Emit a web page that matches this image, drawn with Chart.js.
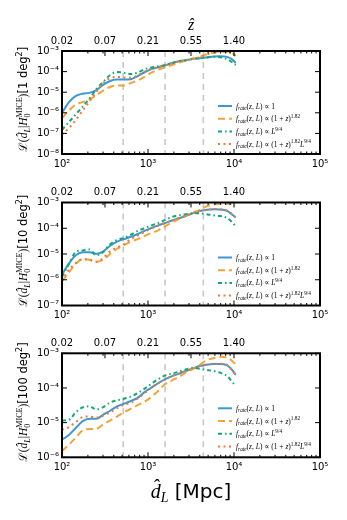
<!DOCTYPE html>
<html>
<head>
<meta charset="utf-8">
<script src="https://cdn.jsdelivr.net/npm/chart.js@4.4.1/dist/chart.umd.min.js"></script>
<style>
  html, body { margin: 0; padding: 0; background: #fff; }
  #wrap { position: relative; width: 347px; height: 520px; }
  #wrap canvas { position: absolute; left: 0; }
</style>
</head>
<body>
<div id="wrap">
  <canvas id="c1" width="347" height="170" style="top:0px"></canvas>
  <canvas id="c2" width="347" height="160" style="top:170px"></canvas>
  <canvas id="c3" width="347" height="190" style="top:330px"></canvas>
</div>
<script>
// luminosity distance grid (Mpc)
const dL = [100, 120, 145, 174, 209, 251, 302, 363, 437, 525, 631, 759, 912, 1096, 1318,
            1585, 1905, 2291, 2754, 3311, 3981, 4786, 5754, 6918, 8318, 9333, 10470];

// 1 deg2
const flat1 = [1.0e-6, 3.2e-6, 6.6e-6, 8.5e-6, 9.3e-6, 1.26e-5, 2.3e-5, 3.5e-5, 4.1e-5, 4.1e-5, 4.3e-5, 6.0e-5, 9.3e-5, 1.32e-4,
               1.6e-4, 2.0e-4, 2.6e-4, 3.2e-4, 3.6e-4, 4.1e-4, 4.5e-4, 4.9e-4, 5.4e-4, 5.6e-4, 5.2e-4, 4.2e-4, 2.6e-4];
const zev1  = [5.6e-7, 1.26e-6, 2.5e-6, 3.3e-6, 4.5e-6, 7.1e-6, 1.2e-5, 1.8e-5, 2.1e-5, 2.1e-5, 2.8e-5, 3.7e-5, 5.6e-5, 8.9e-5,
               1.26e-4, 1.6e-4, 2.1e-4, 2.75e-4, 3.4e-4, 4.2e-4, 5.2e-4, 6.9e-4, 8.3e-4, 9.1e-4, 9.3e-4, 8.3e-4, 6.3e-4];
const lum1  = [1.5e-7, 3.5e-7, 8.5e-7, 2.0e-6, 5.0e-6, 1.4e-5, 3.2e-5, 6.8e-5, 9.5e-5, 8.9e-5, 7.6e-5, 8.9e-5, 1.3e-4, 1.6e-4,
               1.8e-4, 2.1e-4, 2.6e-4, 3.2e-4, 3.6e-4, 4.1e-4, 4.4e-4, 4.8e-4, 5.2e-4, 5.0e-4, 4.0e-4, 3.0e-4, 2.1e-4];
const both1 = [8.9e-8, 1.8e-7, 4.5e-7, 1.3e-6, 3.5e-6, 1.05e-5, 2.8e-5, 4.8e-5, 5.5e-5, 5.2e-5, 5.0e-5, 6.6e-5, 1.0e-4, 1.38e-4,
               1.7e-4, 2.04e-4, 2.5e-4, 3.1e-4, 3.5e-4, 4.2e-4, 5.0e-4, 6.6e-4, 8.5e-4, 9.5e-4, 9.3e-4, 7.9e-4, 5.6e-4];

// 10 deg2
const flat2 = [1.6e-6, 4.2e-6, 8.9e-6, 1.17e-5, 1.17e-5, 1.02e-5, 1.26e-5, 2.1e-5, 3.0e-5, 3.8e-5, 4.7e-5, 6.0e-5, 7.9e-5, 1.02e-4,
               1.29e-4, 1.6e-4, 2.0e-4, 2.45e-4, 3.0e-4, 3.8e-4, 4.7e-4, 5.2e-4, 5.5e-4, 5.4e-4, 4.7e-4, 3.6e-4, 2.6e-4];
const zev2  = [8.9e-7, 1.9e-6, 4.2e-6, 6.3e-6, 6.0e-6, 5.0e-6, 6.0e-6, 1.0e-5, 1.6e-5, 2.2e-5, 3.0e-5, 3.8e-5, 5.0e-5, 6.6e-5,
               8.3e-5, 1.2e-4, 1.7e-4, 2.3e-4, 3.2e-4, 4.0e-4, 5.2e-4, 7.1e-4, 8.3e-4, 8.9e-4, 9.1e-4, 8.5e-4, 7.6e-4];
const lum2  = [1.3e-6, 4.0e-6, 1.2e-5, 1.38e-5, 1.5e-5, 8.9e-6, 1.2e-5, 2.4e-5, 3.5e-5, 4.2e-5, 5.6e-5, 7.9e-5, 1.0e-4, 1.3e-4,
               1.6e-4, 2.1e-4, 2.75e-4, 3.2e-4, 3.5e-4, 3.8e-4, 3.8e-4, 3.5e-4, 3.2e-4, 3.0e-4, 2.5e-4, 1.8e-4, 1.2e-4];
const both2 = [8.9e-7, 2.4e-6, 4.5e-6, 6.3e-6, 5.9e-6, 5.0e-6, 7.1e-6, 1.26e-5, 1.8e-5, 2.4e-5, 3.8e-5, 5.2e-5, 7.1e-5, 1.0e-4,
               1.26e-4, 1.6e-4, 2.0e-4, 2.5e-4, 3.1e-4, 3.8e-4, 4.7e-4, 5.2e-4, 5.6e-4, 5.5e-4, 4.8e-4, 3.7e-4, 2.7e-4];

// 100 deg2
const flat3 = [3.2e-6, 4.4e-6, 7.1e-6, 1.1e-5, 1.29e-5, 1.29e-5, 1.7e-5, 2.2e-5, 2.95e-5, 3.5e-5, 4.2e-5, 5.2e-5, 7.6e-5, 1.02e-4,
               1.38e-4, 1.8e-4, 2.2e-4, 2.6e-4, 3.1e-4, 3.6e-4, 4.3e-4, 4.7e-4, 4.9e-4, 4.9e-4, 4.5e-4, 3.5e-4, 2.4e-4];
const zev3  = [1.5e-6, 2.3e-6, 3.7e-6, 6.0e-6, 6.5e-6, 6.6e-6, 8.9e-6, 1.15e-5, 1.5e-5, 2.0e-5, 2.5e-5, 3.2e-5, 4.0e-5, 5.5e-5,
               8.3e-5, 1.3e-4, 1.66e-4, 2.1e-4, 2.75e-4, 3.5e-4, 4.6e-4, 6.3e-4, 7.2e-4, 7.9e-4, 7.6e-4, 6.3e-4, 4.7e-4];
const lum3  = [1.15e-5, 1.2e-5, 2.0e-5, 2.75e-5, 2.95e-5, 2.4e-5, 2.8e-5, 3.8e-5, 4.4e-5, 4.9e-5, 5.6e-5, 7.1e-5, 9.5e-5, 1.32e-4,
               1.8e-4, 2.3e-4, 2.6e-4, 2.95e-4, 3.4e-4, 3.8e-4, 3.6e-4, 3.3e-4, 3.1e-4, 2.75e-4, 2.2e-4, 1.6e-4, 1.12e-4];
const both3 = [6.2e-6, 7.4e-6, 1.05e-5, 1.45e-5, 1.5e-5, 1.4e-5, 1.6e-5, 2.0e-5, 2.6e-5, 3.3e-5, 3.7e-5, 5.0e-5, 7.1e-5, 1.02e-4,
               1.38e-4, 1.8e-4, 2.2e-4, 2.6e-4, 3.1e-4, 3.6e-4, 4.3e-4, 4.8e-4, 5.0e-4, 5.0e-4, 4.6e-4, 3.5e-4, 2.4e-4];

const xTickVals = [1e2, 1e3, 1e4, 1e5];
const xTickLabels = ['10²', '10³', '10⁴', '10⁵'];
const zTickVals = [100, 316, 1000, 3162, 10000];
const zTickLabels = ['0.02', '0.07', '0.21', '0.55', '1.40'];
const binEdges = [515, 1580, 4400];
const skyAreas = ['1', '10', '100'];
const yMins = [1e-8, 1e-7, 1e-6];

const panelSeries = [
  [flat1, zev1, lum1, both1],
  [flat2, zev2, lum2, both2],
  [flat3, zev3, lum3, both3]
];

const colors = ['#3d97d3', '#f2a43a', '#14a57b', '#ef7a33'];
const dashes = [[], [7, 4], [4, 3, 1.5, 3], [2, 3.5]];
// space above / below the plot frame in each canvas
const frames = [{ top: 51, bottom: 16 }, { top: 32.5, bottom: 24.5 }, { top: 23.3, bottom: 62.7 }];

const SERIF = '"Liberation Serif", "DejaVu Serif", serif';
const SANS = '"DejaVu Sans", sans-serif';
const STYLES = {
  n:    { fam: SERIF, it: false, k: 1,   dy: 0 },
  i:    { fam: SERIF, it: true,  k: 1,   dy: 0 },
  isub: { fam: SERIF, it: true,  k: 0.7, dy: 0.22 },
  nsub: { fam: SERIF, it: false, k: 0.7, dy: 0.22 },
  sup:  { fam: SERIF, it: false, k: 0.7, dy: -0.42 },
  stk:  { fam: SERIF, it: false, k: 0.7, dy: -0.42, stack: true },
  sans: { fam: SANS,  it: false, k: 1,   dy: 0 },
  ssup: { fam: SANS,  it: false, k: 0.7, dy: -0.42 }
};

const legendRows = [
  [['f', 'i'], ['rate', 'isub'], ['(', 'n'], ['z', 'i'], [', ', 'n'], ['L', 'i'], [') ∝ 1', 'n']],
  [['f', 'i'], ['rate', 'isub'], ['(', 'n'], ['z', 'i'], [', ', 'n'], ['L', 'i'], [') ∝ (1 + ', 'n'], ['z', 'i'], [')', 'n'], ['1.82', 'sup']],
  [['f', 'i'], ['rate', 'isub'], ['(', 'n'], ['z', 'i'], [', ', 'n'], ['L', 'i'], [') ∝ ', 'n'], ['L', 'i'], ['9/4', 'sup']],
  [['f', 'i'], ['rate', 'isub'], ['(', 'n'], ['z', 'i'], [', ', 'n'], ['L', 'i'], [') ∝ (1 + ', 'n'], ['z', 'i'], [')', 'n'], ['1.82', 'sup'], ['L', 'i'], ['9/4', 'sup']]
];

function toSup(s) {
  const m = { '-': '⁻', '0': '⁰', '1': '¹', '2': '²', '3': '³', '4': '⁴', '5': '⁵', '6': '⁶', '7': '⁷', '8': '⁸', '9': '⁹' };
  return s.split('').map(c => m[c]).join('');
}

function segFont(st, size) {
  return (st.it ? 'italic ' : '') + (size * st.k).toFixed(2) + 'px ' + st.fam;
}

function drawRich(ctx, segs, x, y, size, align) {
  let cx = 0, prevStart = 0;
  const items = [];
  segs.forEach(([t, s]) => {
    const st = STYLES[s];
    const font = segFont(st, size);
    ctx.font = font;
    const w = ctx.measureText(t).width;
    const sx = st.stack ? prevStart : cx;
    if (!st.stack) prevStart = sx;
    items.push({ t, font, x: sx, dy: st.dy * size });
    cx = Math.max(cx, sx + w);
  });
  const x0 = align === 'center' ? x - cx / 2 : x;
  ctx.textAlign = 'left';
  ctx.textBaseline = 'alphabetic';
  items.forEach(it => {
    ctx.font = it.font;
    ctx.fillText(it.t, x0 + it.x, y + it.dy);
  });
}

const framePlugin = {
  id: 'frame',
  beforeDatasetsDraw(chart) {
    const { ctx, chartArea: a, scales: { x } } = chart;
    ctx.save();
    ctx.strokeStyle = '#c8c8c8';
    ctx.lineWidth = 1.6;
    ctx.setLineDash([6, 5]);
    binEdges.forEach(d => {
      const px = x.getPixelForValue(d);
      ctx.beginPath();
      ctx.moveTo(px, a.top);
      ctx.lineTo(px, a.bottom);
      ctx.stroke();
    });
    ctx.restore();
  },
  afterDraw(chart, args, opts) {
    const { ctx, chartArea: a, scales: { x, y } } = chart;
    const p = opts.panel;
    ctx.save();
    ctx.strokeStyle = '#000';
    ctx.lineWidth = 1;
    ctx.setLineDash([]);
    const tick = (x1, y1, x2, y2) => { ctx.beginPath(); ctx.moveTo(x1, y1); ctx.lineTo(x2, y2); ctx.stroke(); };
    for (let e = 2; e < 5; e++) {
      for (let k = 2; k < 10; k++) {
        const px = x.getPixelForValue(k * Math.pow(10, e));
        tick(px, a.bottom, px, a.bottom - 2.5);
        tick(px, a.top, px, a.top + 2.5);
      }
    }
    xTickVals.forEach(v => { const px = x.getPixelForValue(v); tick(px, a.bottom, px, a.bottom - 5); });
    zTickVals.forEach(v => { const px = x.getPixelForValue(v); tick(px, a.top, px, a.top + 5); });
    y.ticks.forEach(t => {
      const py = y.getPixelForValue(t.value);
      tick(a.left, py, a.left + 5, py);
      tick(a.right, py, a.right - 5, py);
    });
    ctx.lineWidth = 2;
    ctx.strokeRect(a.left, a.top, a.right - a.left, a.bottom - a.top);

    // legend
    ctx.fillStyle = '#000';
    legendRows.forEach((segs, j) => {
      const ly = a.top + 55 + j * 12.7;
      ctx.strokeStyle = colors[j];
      ctx.lineWidth = 2;
      ctx.setLineDash(dashes[j]);
      tick(a.left + 156, ly, a.left + 170, ly);
      ctx.setLineDash([]);
      drawRich(ctx, segs, a.left + 174, ly + 2.5, 7.5, 'left');
    });

    // y title
    ctx.save();
    ctx.translate(27, (a.top + a.bottom) / 2 - 3);
    ctx.rotate(-Math.PI / 2);
    drawRich(ctx, [['ℒ', 'n'], ['(', 'n'], ['d̂', 'i'], ['L', 'isub'], ['|', 'n'], ['H', 'i'], ['0', 'nsub'],
                   ['MICE', 'stk'], [')', 'n'], ['[' + skyAreas[p] + ' deg', 'sans'], ['2', 'ssup'], [']', 'sans']],
             0, 0, 11.5, 'center');
    ctx.restore();

    const cxm = (a.left + a.right) / 2;
    if (p === 0) drawRich(ctx, [['ẑ', 'i']], cxm, 30, 16, 'center');
    if (p === 2) drawRich(ctx, [['d̂', 'i'], ['L', 'isub'], [' [Mpc]', 'sans']], cxm, 168, 20, 'center');
    ctx.restore();
  }
};

function makeChart(p) {
  const fr = frames[p];
  const tickFont = { family: 'DejaVu Sans', size: 10 };
  return new Chart(document.getElementById('c' + (p + 1)), {
    type: 'line',
    data: {
      datasets: panelSeries[p].map((vals, j) => ({
        data: dL.map((d, k) => ({ x: d, y: vals[k] })),
        borderColor: colors[j],
        borderWidth: 2,
        borderDash: dashes[j],
        pointRadius: 0,
        fill: false,
        cubicInterpolationMode: 'monotone',
        order: 4 - j
      }))
    },
    options: {
      responsive: false,
      animation: false,
      devicePixelRatio: 1,
      layout: { padding: { left: 0, right: 27, top: 0, bottom: 0 } },
      plugins: { legend: { display: false }, tooltip: { enabled: false }, frame: { panel: p } },
      scales: {
        x: {
          type: 'logarithmic', position: 'bottom', min: 100, max: 1e5,
          grid: { display: false, drawTicks: false }, border: { display: false },
          afterBuildTicks: s => { s.ticks = xTickVals.map(v => ({ value: v })); },
          ticks: { callback: (v, k) => xTickLabels[k], color: '#000', font: tickFont, padding: 4, maxRotation: 0, autoSkip: false },
          afterFit: s => { s.height = fr.bottom; }
        },
        xTop: {
          type: 'logarithmic', position: 'top', axis: 'x', min: 100, max: 1e5,
          grid: { display: false, drawTicks: false }, border: { display: false },
          afterBuildTicks: s => { s.ticks = zTickVals.map(v => ({ value: v })); },
          ticks: { callback: (v, k) => zTickLabels[k], color: '#000', font: tickFont, padding: 4, maxRotation: 0, autoSkip: false },
          afterFit: s => { s.height = fr.top; }
        },
        y: {
          type: 'logarithmic', position: 'left', min: yMins[p], max: 1e-3,
          grid: { display: false, drawTicks: false }, border: { display: false },
          afterBuildTicks: s => {
            const t = [];
            for (let e = Math.round(Math.log10(yMins[p])); e <= -3; e++) t.push({ value: Math.pow(10, e) });
            s.ticks = t;
          },
          ticks: { callback: v => '10' + toSup(String(Math.round(Math.log10(v)))), color: '#000', font: tickFont, padding: 3 },
          afterFit: s => { s.width = 62; }
        }
      }
    },
    plugins: [framePlugin]
  });
}

[0, 1, 2].forEach(makeChart);
</script>
</body>
</html>
